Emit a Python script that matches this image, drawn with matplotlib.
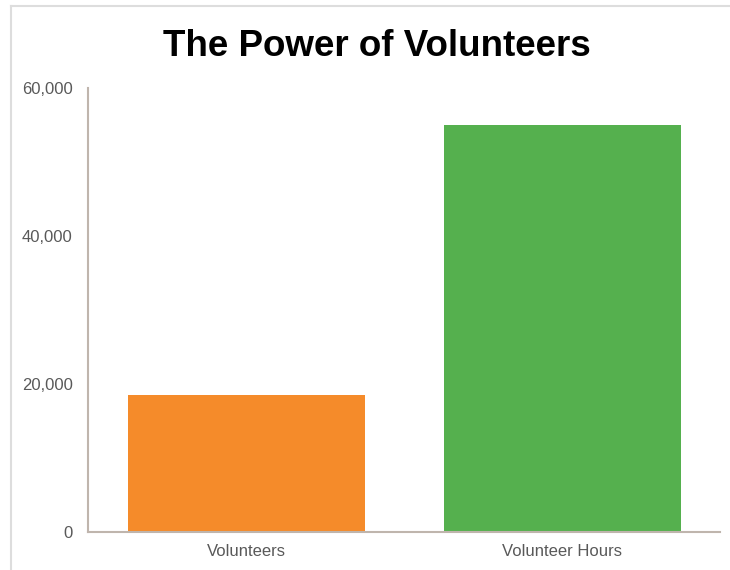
import matplotlib
matplotlib.use("Agg")
import matplotlib.pyplot as plt
from matplotlib.lines import Line2D
from matplotlib.ticker import FuncFormatter

# chart data
categories = ["Volunteers", "Volunteer Hours"]
values = [18500, 55000]
colors = ["#F58B2A", "#55B04E"]
yticks = [0, 20000, 40000, 60000]

plt.rcParams["font.family"] = ["Liberation Sans", "DejaVu Sans"]

fig = plt.figure(figsize=(7.3, 5.7), dpi=100)
ax = fig.add_axes([88 / 730, 38 / 570, 632 / 730, 444 / 570])

ax.bar(range(len(categories)), values, width=0.75, color=colors)
ax.set_xlim(-0.5, 1.5)
ax.set_ylim(0, 60000)
ax.set_xticks(range(len(categories)))
ax.set_xticklabels(categories)
ax.set_yticks(yticks)
ax.yaxis.set_major_formatter(FuncFormatter(lambda v, p: f"{int(v):,}"))
ax.tick_params(axis="both", length=0, labelsize=12, colors="#595959")
ax.tick_params(axis="y", pad=11)
ax.tick_params(axis="x", pad=9)

for s in ["top", "right"]:
    ax.spines[s].set_visible(False)
for s in ["left", "bottom"]:
    ax.spines[s].set_color("#BFB5AD")
    ax.spines[s].set_linewidth(1.5)

fig.text(377 / 730, 1 - 46 / 570, "The Power of Volunteers", ha="center",
         va="center", fontsize=26.5, fontweight="bold", color="black")

# light frame around the chart area
fig.add_artist(Line2D([11 / 730, 1], [1 - 6 / 570, 1 - 6 / 570], color="#DDDDDD", lw=1.5))
fig.add_artist(Line2D([11 / 730, 11 / 730], [0, 1 - 6 / 570], color="#DDDDDD", lw=1.5))

fig.savefig("out.png", dpi=100)
